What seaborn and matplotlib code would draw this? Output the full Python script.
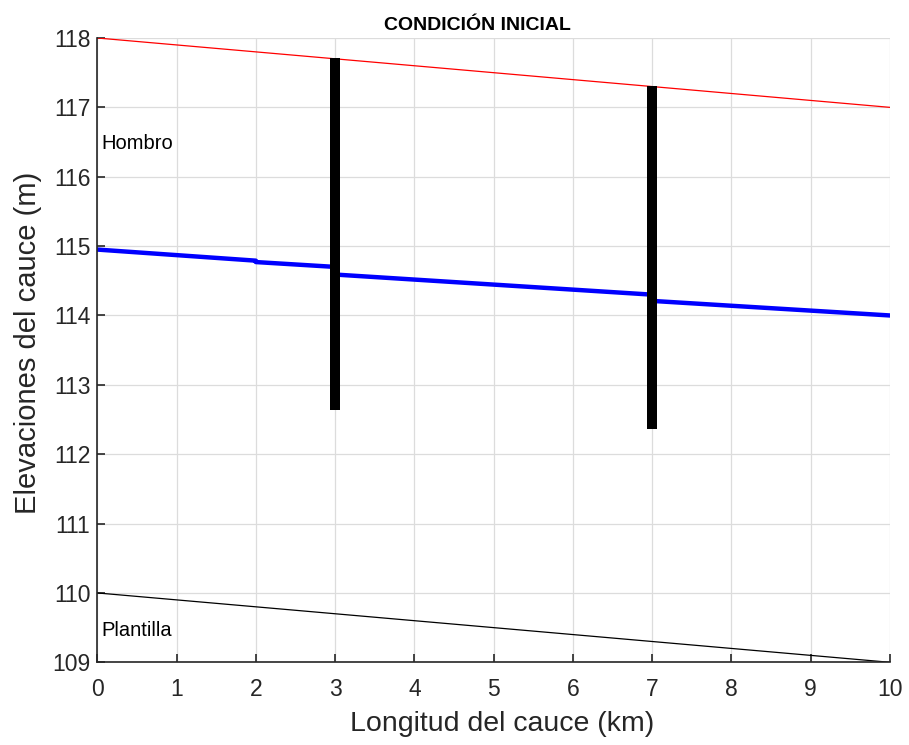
import numpy as np
import pandas as pd
import matplotlib
matplotlib.use("Agg")
import matplotlib.pyplot as plt
import seaborn as sns

# --- datos ---
x_bordes = [0, 10]
hombro = [118.0, 117.0]
plantilla = [110.0, 109.0]

x_agua = [0, 2, 2, 3, 3, 7, 7, 10]
y_agua = [114.95, 114.79, 114.77, 114.70, 114.59, 114.30, 114.21, 114.00]

x_pilas = [3, 7]
pila_base = [112.63, 112.36]
pila_tope = [117.71, 117.31]

sns.set_theme(style="white")
plt.rcParams['font.family'] = ['Liberation Sans', 'DejaVu Sans']

fig, ax = plt.subplots(figsize=(9.09, 7.45), dpi=100)
fig.subplots_adjust(left=0.107, right=0.979, top=0.949, bottom=0.111)

df_h = pd.DataFrame({'x': x_bordes, 'y': hombro})
df_p = pd.DataFrame({'x': x_bordes, 'y': plantilla})
df_a = pd.DataFrame({'x': x_agua, 'y': y_agua})

sns.lineplot(data=df_h, x='x', y='y', color='red', lw=0.9, ax=ax, sort=False, estimator=None)
sns.lineplot(data=df_p, x='x', y='y', color='black', lw=0.9, ax=ax, sort=False, estimator=None)
sns.lineplot(data=df_a, x='x', y='y', color='#0000ff', lw=3.2, ax=ax, sort=False, estimator=None)
ax.vlines(x_pilas, pila_base, pila_tope, colors='black', lw=7.2, zorder=5)

ax.text(0.05, 116.48, 'Hombro', fontsize=14.5, va='center', ha='left', color='black')
ax.text(0.05, 109.46, 'Plantilla', fontsize=14.5, va='center', ha='left', color='black')

ax.set_xlim(0, 10)
ax.set_ylim(109, 118)
ax.set_xticks(range(0, 11))
ax.set_yticks(range(109, 119))
ax.grid(True, color='#dcdcdc', lw=0.9)
ax.set_axisbelow(True)

for s in ['top', 'right']:
    ax.spines[s].set_visible(False)
for s in ['left', 'bottom']:
    ax.spines[s].set_color('#262626')
    ax.spines[s].set_linewidth(1.2)

ax.tick_params(direction='in', length=6, width=1.2, colors='#262626',
               labelsize=16.5, labelcolor='#262626', left=True, bottom=True)
ax.tick_params(axis='y', pad=5)
ax.tick_params(axis='x', pad=11)

ax.set_xlabel('Longitud del cauce (km)', fontsize=20.5, color='#262626')
ax.set_ylabel('Elevaciones del cauce (m)', fontsize=21, color='#262626')
ax.xaxis.set_label_coords(0.511, -0.078)
ax.yaxis.set_label_coords(-0.070, 0.512)
ax.set_title('CONDICIÓN INICIAL', fontsize=14, fontweight='bold', color='black', pad=6, x=0.48)

fig.savefig('out.png', dpi=100)
